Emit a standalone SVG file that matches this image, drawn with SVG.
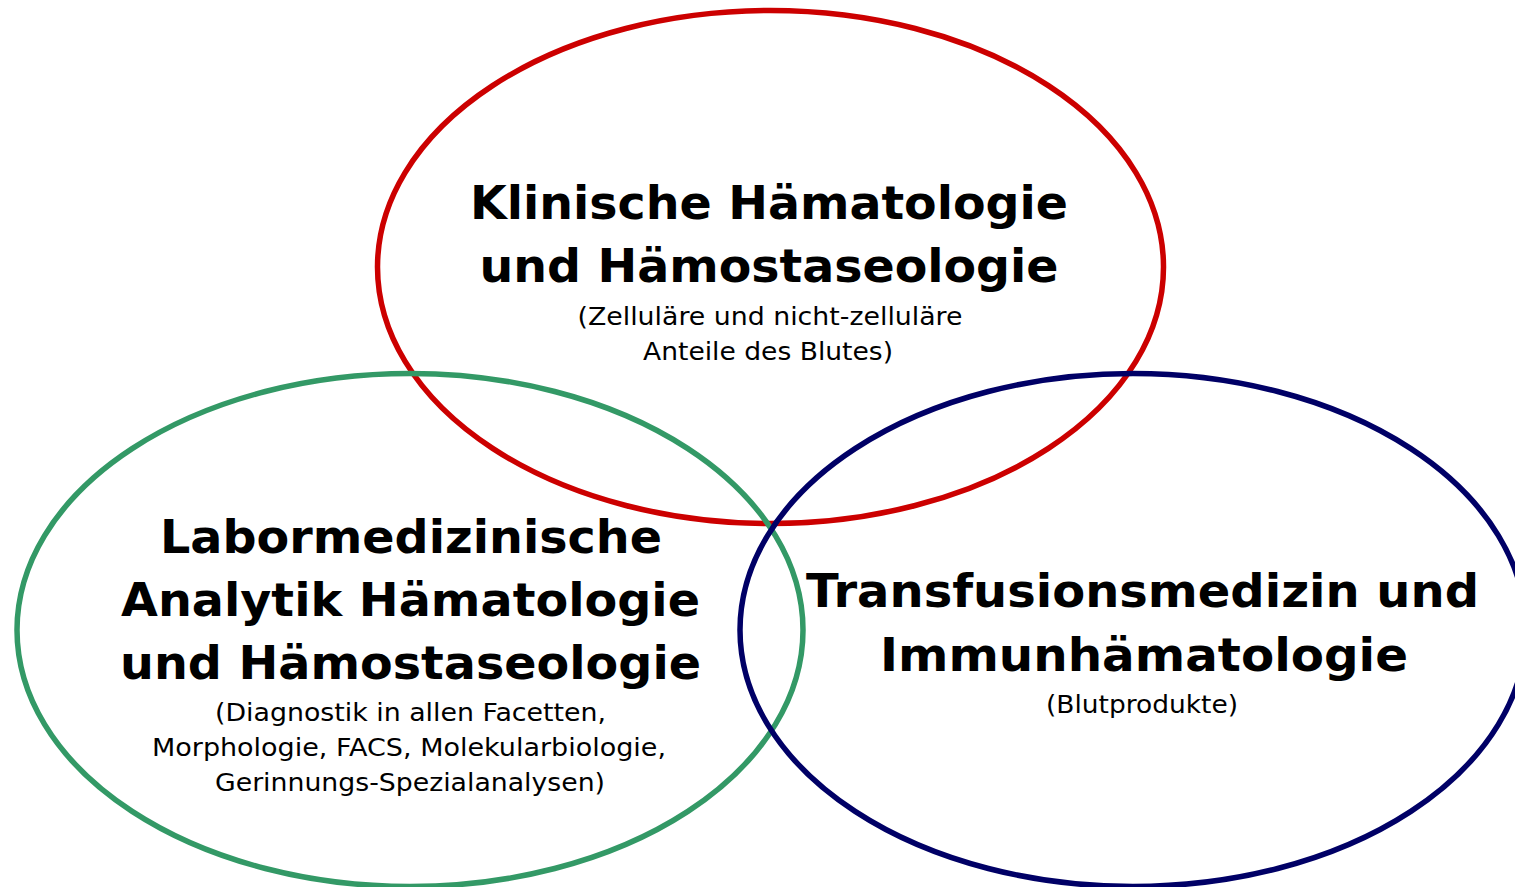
<svg xmlns="http://www.w3.org/2000/svg" width="1515" height="887" viewBox="0 0 1515 887">
<style>
.ring{fill:none;stroke-width:5.5}
.t{font-family:"DejaVu Sans","Verdana",sans-serif;font-weight:bold;font-size:47px;fill:#000;text-anchor:middle}
.s{font-family:"DejaVu Sans","Verdana",sans-serif;font-size:24px;fill:#000;text-anchor:middle}
</style>
<rect width="1515" height="887" fill="#fff"/>
<g id="klinik">
<ellipse class="ring" cx="770.5" cy="267" rx="393" ry="256.5" stroke="#CC0000"/>
<text class="t" x="769" y="219" textLength="598" lengthAdjust="spacingAndGlyphs">Klinische Hämatologie</text>
<text class="t" x="769" y="282" textLength="579" lengthAdjust="spacingAndGlyphs">und Hämostaseologie</text>
<text class="s" x="770" y="325" textLength="385" lengthAdjust="spacingAndGlyphs">(Zelluläre und nicht-zelluläre</text>
<text class="s" x="768" y="360" textLength="250" lengthAdjust="spacingAndGlyphs">Anteile des Blutes)</text>
</g>
<g id="labor">
<ellipse class="ring" cx="410" cy="630" rx="393" ry="256.5" stroke="#339966"/>
<text class="t" x="411" y="553" textLength="502" lengthAdjust="spacingAndGlyphs">Labormedizinische</text>
<text class="t" x="410.5" y="616" textLength="579" lengthAdjust="spacingAndGlyphs">Analytik Hämatologie</text>
<text class="t" x="410.5" y="679" textLength="581" lengthAdjust="spacingAndGlyphs">und Hämostaseologie</text>
<text class="s" x="410.5" y="721" textLength="391" lengthAdjust="spacingAndGlyphs">(Diagnostik in allen Facetten,</text>
<text class="s" x="409" y="756" textLength="514" lengthAdjust="spacingAndGlyphs">Morphologie, FACS, Molekularbiologie,</text>
<text class="s" x="410" y="791" textLength="390" lengthAdjust="spacingAndGlyphs">Gerinnungs-Spezialanalysen)</text>
</g>
<g id="transfusion">
<ellipse class="ring" cx="1133" cy="630" rx="393" ry="256.5" stroke="#000066"/>
<text class="t" x="1142.5" y="607" textLength="673" lengthAdjust="spacingAndGlyphs">Transfusionsmedizin und</text>
<text class="t" x="1144" y="671" textLength="528" lengthAdjust="spacingAndGlyphs">Immunhämatologie</text>
<text class="s" x="1142" y="713" textLength="192" lengthAdjust="spacingAndGlyphs">(Blutprodukte)</text>
</g>
<g id="connectors"/>
</svg>
